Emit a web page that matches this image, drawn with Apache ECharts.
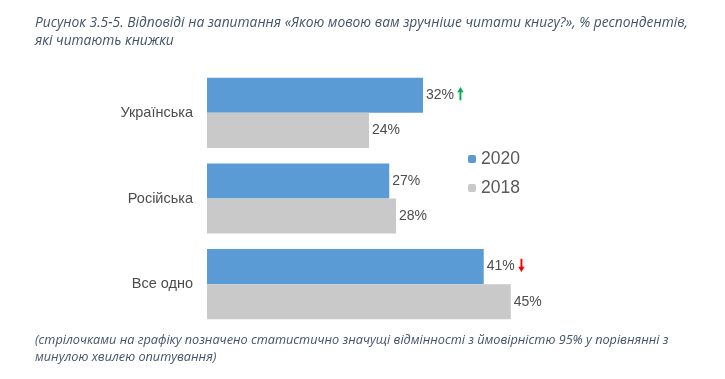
<!DOCTYPE html>
<html><head><meta charset="utf-8">
<script src="https://cdn.jsdelivr.net/npm/echarts@6/dist/echarts.min.js"></script>
<style>html,body{margin:0;padding:0;background:#fff}#c{width:725px;height:379px}</style>
</head><body><div id="c"></div>
<script>
const categories = ['Українська', 'Російська', 'Все одно'];
const values2020 = [32, 27, 41];
const values2018 = [24, 28, 45];
const arrows2020 = ['up', '', 'down'];
const titleLines = ['Рисунок 3.5-5. Відповіді на запитання «Якою мовою вам зручніше читати книгу?», % респондентів,', 'які читають книжки'];
const noteLines = ['(стрілочками на графіку позначено статистично значущі відмінності з ймовірністю 95% у порівнянні з', 'минулою хвилею опитування)'];

const chart = echarts.init(document.getElementById('c'));
const labelFont = 'Liberation Sans, Arial, sans-serif';
const titleFont = '"Liberation Sans Narrow", "Open Sans", sans-serif';
chart.setOption({
  animation: false,
  title: [
    { text: titleLines.join('\n'), left: 30, top: 9,
      textStyle: { fontFamily: titleFont, fontStyle: 'italic', fontWeight: 'normal', fontSize: 13.8, color: '#44546A', lineHeight: 18 } },
    { text: noteLines.join('\n'), left: 30, top: 327,
      textStyle: { fontFamily: titleFont, fontStyle: 'italic', fontWeight: 'normal', fontSize: 12.7, color: '#44546A', lineHeight: 17 } }
  ],
  legend: {
    orient: 'vertical', left: 463, top: 145, itemWidth: 8, itemHeight: 8, itemGap: 11,
    data: ['2020', '2018'],
    textStyle: { fontFamily: labelFont, fontSize: 17.5, color: '#595959' }
  },
  grid: { left: 207, width: 337.5, top: 70, bottom: 52 },
  xAxis: { type: 'value', min: 0, max: 50, show: false },
  yAxis: {
    type: 'category', data: categories, inverse: true,
    axisLine: { show: false },
    axisTick: { show: false },
    axisLabel: { margin: 14, fontFamily: labelFont, fontSize: 14.5, color: '#4D4D4D' }
  },
  series: [
    { name: '2020', type: 'bar', data: values2020, barGap: '0%', barCategoryGap: '18%',
      itemStyle: { color: '#5B9BD5' },
      label: { show: true, position: 'right', distance: 3,
        formatter: p => {
          const a = arrows2020[p.dataIndex];
          return '{v|' + p.value + '%}' + (a === 'up' ? ' {up|🠕}' : a === 'down' ? ' {dn|🠗}' : '');
        },
        rich: {
          v: { fontFamily: labelFont, fontSize: 14, color: '#4D4D4D' },
          up: { fontFamily: 'DejaVu Sans', fontSize: 16, color: '#00B050', fontWeight: 'bold' },
          dn: { fontFamily: 'DejaVu Sans', fontSize: 16, color: '#FF0000', fontWeight: 'bold' }
        } } },
    { name: '2018', type: 'bar', data: values2018,
      itemStyle: { color: '#C9C9C9' },
      label: { show: true, position: 'right', distance: 3, formatter: '{c}%',
        fontFamily: labelFont, fontSize: 14, color: '#4D4D4D' } }
  ]
});
</script></body></html>
